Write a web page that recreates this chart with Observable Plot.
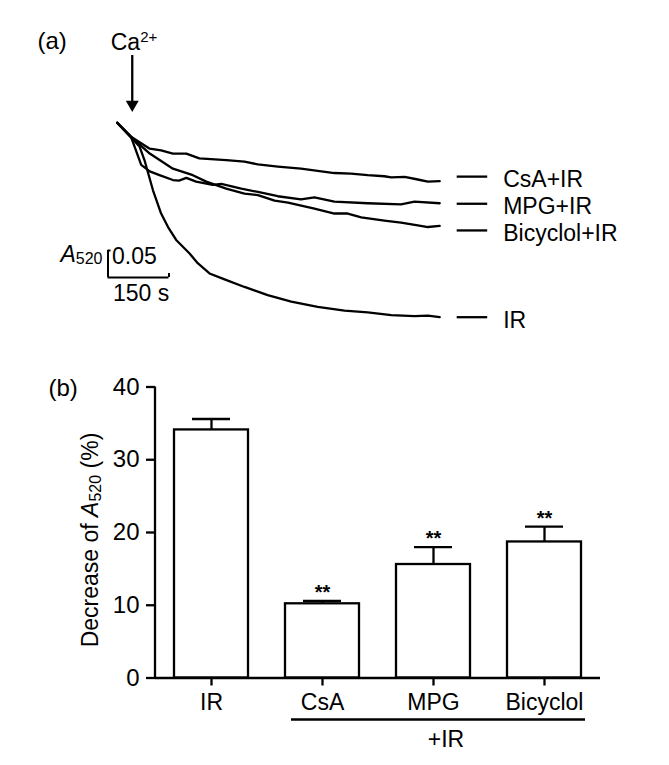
<!DOCTYPE html>
<html>
<head>
<meta charset="utf-8">
<script src="https://cdn.jsdelivr.net/npm/d3@7"></script>
<script src="https://cdn.jsdelivr.net/npm/@observablehq/plot@0.6"></script>
<style>
  body { margin: 0; background: #fff; }
  #wrap { position: relative; width: 669px; height: 765px; background: #fff;
          font-family: "Liberation Sans", Arial, Helvetica, sans-serif; }
  #wrap svg { position: absolute; left: 0; overflow: visible; }
</style>
</head>
<body>
<div id="wrap"></div>
<script>
// ---------------- Panel (a): swelling traces, [time (s) after start, change of A520] ----------------
const traceCsA = [[0,0],[34,-0.026],[80,-0.048],[108,-0.051],[137,-0.057],[170,-0.057],[202,-0.066],[268,-0.069],
  [313,-0.072],[346,-0.077],[395,-0.081],[452,-0.085],[493,-0.089],[534,-0.093],[575,-0.094],[616,-0.097],
  [657,-0.099],[674,-0.101],[707,-0.100],[739,-0.105],[764,-0.109],[793,-0.108]];
const traceMPG = [[0,0],[34,-0.026],[59,-0.078],[80,-0.090],[104,-0.097],[137,-0.106],[152,-0.107],[170,-0.102],
  [194,-0.109],[235,-0.115],[256,-0.113],[305,-0.122],[346,-0.128],[395,-0.136],[452,-0.142],[485,-0.138],
  [534,-0.146],[616,-0.149],[698,-0.151],[731,-0.146],[793,-0.149]];
const traceBicyclol = [[0,0],[34,-0.026],[80,-0.057],[137,-0.085],[186,-0.097],[219,-0.109],[268,-0.122],
  [313,-0.131],[346,-0.134],[387,-0.144],[420,-0.148],[485,-0.159],[534,-0.168],[567,-0.168],[600,-0.175],
  [657,-0.181],[698,-0.185],[739,-0.190],[764,-0.193],[793,-0.191]];
const traceIR = [[0,0],[34,-0.027],[55,-0.044],[67,-0.069],[88,-0.125],[108,-0.168],[125,-0.193],[145,-0.217],
  [178,-0.242],[198,-0.260],[227,-0.279],[264,-0.290],[313,-0.304],[370,-0.319],[428,-0.331],[493,-0.341],
  [559,-0.348],[616,-0.351],[674,-0.356],[731,-0.358],[764,-0.357],[793,-0.360]];
const traceNames = ["CsA+IR", "MPG+IR", "Bicyclol+IR", "IR"];
const caAdditionTime = 37;          // s
const scaleBarSeconds = 150;        // s
const scaleBarAbsorbance = 0.05;    // A520 units

// ---------------- Panel (b): decrease of A520 (%) ----------------
const groups = ["IR", "CsA", "MPG", "Bicyclol"];
const decreaseMean = [34.1, 10.2, 15.6, 18.7];
const decreaseSEM  = [1.5, 0.4, 2.4, 2.1];
const significance = ["", "**", "**", "**"];
const yTicks = [0, 10, 20, 30, 40];
const groupLabel = "+IR";

// ======================================================================
const FONT = '"Liberation Sans", Arial, Helvetica, sans-serif';
const wrap = document.getElementById("wrap");

// ---- Panel (a) ----
const pxPerSec = 61 / 150, pxPerAbs = 540;
const ox = 116.7, oy = 122.3;           // where the traces start
const xDom = [-80, 1000], yDom = [-0.45, 0.25];
const traces = [traceCsA, traceMPG, traceBicyclol, traceIR];
const traceTable = traces.flatMap((pts, i) => pts.map(([t, a]) => ({t, a, name: traceNames[i]})));
const legendNudge = [-4.5, 0.5, 4.5, 0];  // px, to keep the labels apart
const ends = traces.map((pts, i) => {
  const [t, a] = pts[pts.length - 1];
  return {name: traceNames[i], t, a: a - legendNudge[i] / pxPerAbs};
});
const barT = -22.6, barA = -0.2865;     // scale-bar corner (annotation)

const chartA = Plot.plot({
  width: 669, height: 345, margin: 0,
  style: {fontFamily: FONT, fontSize: "23px", color: "black", background: "transparent", overflow: "visible"},
  x: {domain: xDom, range: [ox + xDom[0] * pxPerSec, ox + xDom[1] * pxPerSec], axis: null},
  y: {domain: yDom, range: [oy - yDom[0] * pxPerAbs, oy - yDom[1] * pxPerAbs], axis: null},
  marks: [
    Plot.line(traceTable, {x: "t", y: "a", z: "name", stroke: "black", strokeWidth: 2.3, strokeLinejoin: "round"}),
    Plot.ruleY(ends, {y: "a", x1: d => d.t + 17.5 / pxPerSec, x2: d => d.t + 48 / pxPerSec, stroke: "black", strokeWidth: 2.3}),
    Plot.text(ends, {x: d => d.t + 63.5 / pxPerSec, y: "a", text: "name", textAnchor: "start", lineAnchor: "middle", dy: 3, fontSize: 23}),
    // Ca2+ addition arrow
    Plot.ruleX([caAdditionTime], {x: d => d, y1: 0.1246, y2: 0.036, stroke: "black", strokeWidth: 2.3}),
    Plot.dot([caAdditionTime], {x: d => d, y: 0.0339, symbol: "triangle", rotate: 180, r: 4.8, fill: "black", stroke: "none"}),
    // scale bar
    Plot.ruleX([barT], {x: d => d, y1: barA, y2: barA + scaleBarAbsorbance, strokeWidth: 2}),
    Plot.ruleY([barA + scaleBarAbsorbance], {y: d => d, x1: barT, x2: barT + 3 / pxPerSec, strokeWidth: 2}),
    Plot.ruleY([barA], {y: d => d, x1: barT, x2: barT + scaleBarSeconds, strokeWidth: 2}),
    Plot.ruleX([barT + scaleBarSeconds], {x: d => d, y1: barA, y2: barA + 4 / pxPerAbs, strokeWidth: 2}),
    Plot.text([scaleBarAbsorbance], {x: barT + 4 / pxPerSec, y: barA + scaleBarAbsorbance, text: d => d.toFixed(2), textAnchor: "start", lineAnchor: "middle", dy: 6, fontSize: 23}),
    Plot.text([scaleBarSeconds], {x: barT + scaleBarSeconds / 2, y: barA, text: d => `${d} s`, lineAnchor: "middle", dx: 2.5, dy: 16, fontSize: 23}),
    Plot.text(["(a)"], {frameAnchor: "top-left", text: d => d, dx: 37, dy: 41, textAnchor: "start", lineAnchor: "middle", fontSize: 24})
  ]
});
chartA.style.top = "0px";
wrap.appendChild(chartA);

function richText(svg, attrs, parts) {
  const t = d3.select(svg).append("text").attr("fill", "black").style("font-family", FONT);
  for (const [k, v] of Object.entries(attrs)) t.attr(k, v);
  for (const p of parts) {
    const s = t.append("tspan").text(p.text);
    if (p.size) s.attr("font-size", p.size);
    if (p.dy) s.attr("dy", p.dy);
    if (p.italic) s.attr("font-style", "italic");
  }
  return t;
}
{
  const sx = chartA.scale("x"), sy = chartA.scale("y");
  // Ca2+
  richText(chartA, {x: sx.apply(caAdditionTime) - 21, y: 49.5, "font-size": 23, "text-anchor": "start"},
    [{text: "Ca"}, {text: "2+", size: 15, dy: -8}]);
  // A520 beside the scale bar
  richText(chartA, {x: sx.apply(barT) - 5, y: sy.apply(barA + scaleBarAbsorbance) + 12, "font-size": 23, "text-anchor": "end"},
    [{text: "A", italic: true}, {text: "520", size: 16, dy: 1.5}]);
}

// ---- Panel (b) ----
const barTable = groups.map((g, i) => ({group: g, mean: decreaseMean[i], sem: decreaseSEM[i], sig: significance[i]}));
const chartB = Plot.plot({
  width: 669, height: 420,
  marginTop: 41.5, marginBottom: 87.5, marginLeft: 155, marginRight: 69,
  style: {fontFamily: FONT, fontSize: "23px", color: "black", background: "transparent", overflow: "visible"},
  x: {domain: groups, paddingInner: 1 / 3, paddingOuter: 1 / 6, label: null, axis: null},
  y: {domain: [0, 40], label: null, axis: null},
  marks: [
    Plot.ruleX(barTable, {x: "group", y1: "mean", y2: d => d.mean + d.sem, stroke: "black", strokeWidth: 2.3}),
    Plot.tickY(barTable, {x: "group", y: d => d.mean + d.sem, stroke: "black", strokeWidth: 2.3, insetLeft: 18, insetRight: 18}),
    Plot.barY(barTable, {x: "group", y: "mean", fill: "white", stroke: "black", strokeWidth: 2.3}),
    Plot.text(barTable, {x: "group", y: d => d.mean + d.sem, text: "sig", dy: -8, fontSize: 20, fontWeight: "bold"}),
    Plot.ruleY([0], {stroke: "black", strokeWidth: 2.3}),
    Plot.axisY({ticks: yTicks, tickSize: 9, tickPadding: 7, fontSize: 24, strokeWidth: 2.3, label: null}),
    Plot.axisX({tickSize: 8, tickPadding: 8, fontSize: 23, strokeWidth: 2.3, label: null}),
    Plot.text(["(b)"], {frameAnchor: "top-left", text: d => d, dx: -107, dy: 1, textAnchor: "start", lineAnchor: "middle", fontSize: 24})
  ]
});
chartB.style.top = "345px";
wrap.appendChild(chartB);
{
  const sx = chartB.scale("x"), sy = chartB.scale("y");
  const svg = d3.select(chartB);
  // y-axis line
  svg.append("line").attr("x1", sx.range[0]).attr("x2", sx.range[0])
    .attr("y1", sy.apply(0) + 1.15).attr("y2", sy.apply(40))
    .attr("stroke", "black").attr("stroke-width", 2.3);
  // +IR group line
  const gx1 = sx.apply("CsA") + 6, gx2 = sx.apply("Bicyclol") + sx.bandwidth + 4;
  const gy = sy.apply(0) + 42;
  svg.append("line").attr("x1", gx1).attr("x2", gx2).attr("y1", gy).attr("y2", gy)
    .attr("stroke", "black").attr("stroke-width", 2.3);
  richText(chartB, {x: (gx1 + gx2) / 2 + 8, y: gy + 27, "font-size": 23, "text-anchor": "middle"}, [{text: groupLabel}]);
  // y-axis label
  richText(chartB, {transform: `translate(${90 + 8},${540 - 345}) rotate(-90)`, "font-size": 23, "text-anchor": "middle"},
    [{text: "Decrease of "}, {text: "A", italic: true}, {text: "520", size: 16, dy: 3}, {text: " (%)", dy: -3}]);
}
</script>
</body>
</html>
